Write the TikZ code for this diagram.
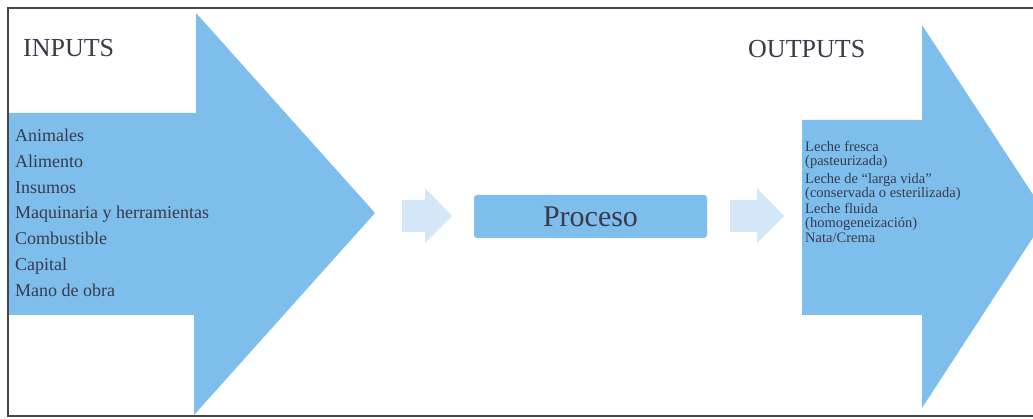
\documentclass[tikz,border=0pt]{standalone}
\usepackage{fontspec}
\setmainfont{Liberation Serif}
\definecolor{arrowblue}{RGB}{126,190,236}
\definecolor{paleblue}{RGB}{212,231,248}
\definecolor{txt}{RGB}{58,58,72}
\definecolor{framec}{RGB}{70,70,70}
\tikzset{
  bigarrow/.style={fill=arrowblue, draw=none},
  smallarrow/.style={fill=paleblue, draw=none},
  title/.style={font=\fontsize{26}{30}\selectfont, text=txt, inner sep=0pt, anchor=west},
  initem/.style={font=\fontsize{18}{20}\selectfont, text=txt, inner sep=0pt, anchor=base west},
  outitem/.style={font=\fontsize{14.5}{16}\selectfont, text=txt, inner sep=0pt, anchor=base west},
  procbox/.style={fill=arrowblue, draw=none, rounded corners=3pt, minimum width=233pt, minimum height=43pt, inner sep=0pt,
     font=\fontsize{30}{34}\selectfont, text=txt}
}
\begin{document}
\begin{tikzpicture}[x=1pt,y=-1pt]
\useasboundingbox (0,0) rectangle (1033,419);
\fill[white] (0,0) rectangle (1033,419);
\begin{scope}
\clip (0,0) rectangle (1033,419);
% frame
\draw[framec, line width=1.4pt] (1040,8) -- (8,8) -- (8,416) -- (1040,416);
% input arrow
\path[bigarrow] (9,113) -- (196,113) -- (196,13) -- (375,213) -- (194,415) -- (194,315) -- (9,315) -- cycle;
% output arrow
\path[bigarrow] (802,120) -- (922,120) -- (922,25) -- (1047,216) -- (922,408) -- (922,315) -- (802,315) -- cycle;
% small arrows
\path[smallarrow] (402,200) -- (425,200) -- (425,188) -- (452,216) -- (425,243) -- (425,232) -- (402,232) -- cycle;
\path[smallarrow] (730,200) -- (757,200) -- (757,188) -- (784,216) -- (757,243) -- (757,232) -- (730,232) -- cycle;
\end{scope}
% titles
\node[title] (inputs) at (23,48) {INPUTS};
\node[title] (outputs) at (748,49) {OUTPUTS};
% process
\node[procbox] (proceso) at (590.5,216.5) {Proceso};
% input list
\foreach \t [count=\i] in {Animales,Alimento,Insumos,Maquinaria y herramientas,Combustible,Capital,Mano de obra}{
  \node[initem] (in\i) at (15,{141.5+25.8*(\i-1)}) {\t};
}
% output list
\node[outitem] (o1a) at (805,152) {Leche fresca};
\node[outitem] (o1b) at (805,166) {(pasteurizada)};
\node[outitem] (o2a) at (805,184) {Leche de ``larga vida''};
\node[outitem] (o2b) at (805,198) {(conservada o esterilizada)};
\node[outitem] (o3a) at (805,214) {Leche fluida};
\node[outitem] (o3b) at (805,228) {(homogeneización)};
\node[outitem] (o4) at (805,243) {Nata/Crema};
\end{tikzpicture}
\end{document}
